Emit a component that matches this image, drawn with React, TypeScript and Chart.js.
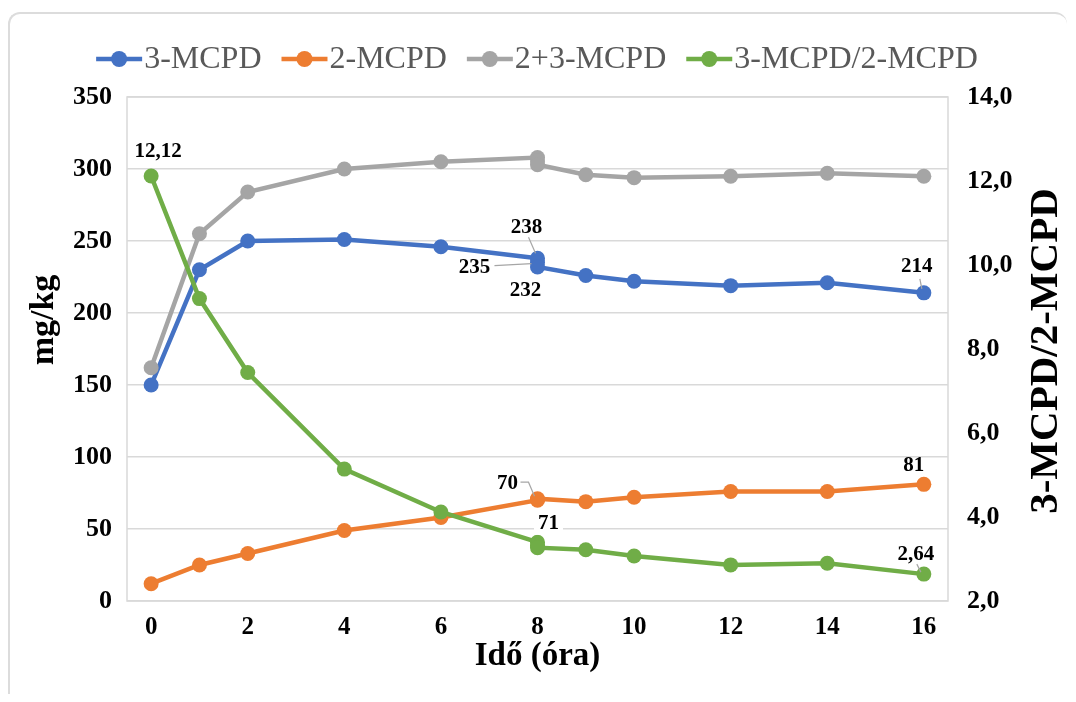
import React, { useEffect, useRef } from "react";
import { Chart, registerables } from "chart.js";

Chart.register(...registerables);

// ---- data ----
const hours = [0, 1, 2, 4, 6, 8, 8, 8, 9, 10, 12, 14, 16];
const mcpd3 = [150, 230, 250, 251, 246, 238, 235, 232, 226, 222, 219, 221, 214];
const mcpd2 = [12, 25, 33, 49, 58, 70, 70.5, 71, 69, 72, 76, 76, 81];
const mcpdSum = [162, 255, 284, 300, 305, 308, 305.5, 303, 296, 294, 295, 297, 295];
const ratio = [12.12, 9.2, 7.44, 5.14, 4.12, 3.4, 3.33, 3.27, 3.22, 3.07, 2.86, 2.9, 2.64];
const xTickValues = [0, 2, 4, 6, 8, 10, 12, 14, 16];
const seriesNames = ["3-MCPD", "2-MCPD", "2+3-MCPD", "3-MCPD/2-MCPD"];
const seriesColors = ["#4472C4", "#ED7D31", "#A5A5A5", "#70AD47"];
const xTitle = "Idő (óra)";
const yTitle = "mg/kg";
const y1Title = "3-MCPD/2-MCPD";

const fmt = (v: number) => String(v).replace(".", ",");

// label placement (offsets from the point, in px)
const labelSpecs = [
  { ds: 3, i: 0, dx: 7, dy: -24 },
  { ds: 0, i: 5, dx: -11, dy: -31, leader: [[-9, -21], [-2, -5]] },
  { ds: 0, i: 6, dx: -63, dy: 5, leader: [[-43, 3], [-6, 1]] },
  { ds: 0, i: 7, dx: -12, dy: 24 },
  { ds: 0, i: 12, dx: -7, dy: -26, leader: [[-4, -14], [-2, -4]] },
  { ds: 1, i: 5, dx: -30, dy: -17, leader: [[-17, -18], [-9, -18], [-3, -4]] },
  { ds: 1, i: 7, dx: 11, dy: 25, bg: true },
  { ds: 1, i: 12, dx: -10, dy: -19 },
  { ds: 3, i: 12, dx: -8, dy: -20, leader: [[-7, -10], [-3, -2]] },
];

const SERIF = '"Liberation Serif", "Times New Roman", serif';

const chartDecor = {
  id: "chartDecor",
  beforeDatasetsDraw(chart: any) {
    const { ctx, chartArea: a } = chart;
    ctx.save();
    ctx.strokeStyle = "#d9d9d9";
    ctx.lineWidth = 1.5;
    ctx.strokeRect(a.left, a.top, a.right - a.left, a.bottom - a.top);
    ctx.restore();
  },
  afterDatasetsDraw(chart: any) {
    const { ctx } = chart;
    ctx.save();
    ctx.font = `bold 21px ${SERIF}`;
    ctx.textAlign = "center";
    ctx.textBaseline = "middle";
    for (const s of labelSpecs) {
      const el = chart.getDatasetMeta(s.ds).data[s.i];
      const raw = chart.data.datasets[s.ds].data[s.i] as any;
      const px = el.x, py = el.y;
      const text = fmt(raw.y);
      if (s.leader) {
        ctx.strokeStyle = "#a6a6a6";
        ctx.lineWidth = 1.2;
        ctx.beginPath();
        s.leader.forEach((p: number[], k: number) => {
          if (k === 0) ctx.moveTo(px + p[0], py + p[1]);
          else ctx.lineTo(px + p[0], py + p[1]);
        });
        ctx.stroke();
      }
      const lx = px + s.dx, ly = py + s.dy;
      if (s.bg) {
        const w = ctx.measureText(text).width + 8;
        ctx.fillStyle = "#ffffff";
        ctx.fillRect(lx - w / 2, ly - 11, w, 22);
      }
      ctx.fillStyle = "#000000";
      ctx.fillText(text, lx, ly);
    }
    ctx.restore();
  },
  afterDraw(chart: any) {
    const { ctx, chartArea: a } = chart;
    ctx.save();
    // legend
    ctx.font = `32px ${SERIF}`;
    ctx.textBaseline = "middle";
    ctx.textAlign = "left";
    const markerW = 46, gapText = 2, gapItem = 20, ly = 51;
    const widths = seriesNames.map((n) => ctx.measureText(n).width);
    const total = widths.reduce((s, w) => s + w + markerW + gapText, 0) + gapItem * (seriesNames.length - 1);
    let x = 529 - total / 2;
    seriesNames.forEach((n, k) => {
      ctx.strokeStyle = seriesColors[k];
      ctx.lineWidth = 4.5;
      ctx.beginPath();
      ctx.moveTo(x, ly);
      ctx.lineTo(x + markerW, ly);
      ctx.stroke();
      ctx.fillStyle = seriesColors[k];
      ctx.beginPath();
      ctx.arc(x + markerW / 2, ly, 8, 0, Math.PI * 2);
      ctx.fill();
      ctx.fillStyle = "#595959";
      ctx.fillText(n, x + markerW + gapText, ly + 1);
      x += markerW + gapText + widths[k] + gapItem;
    });
    // axis titles
    ctx.fillStyle = "#000000";
    ctx.textAlign = "center";
    ctx.font = `bold 33px ${SERIF}`;
    ctx.fillText(xTitle, (a.left + a.right) / 2, 648);
    ctx.save();
    ctx.translate(36, 312);
    ctx.rotate(-Math.PI / 2);
    ctx.font = `bold 34px ${SERIF}`;
    ctx.fillText(yTitle, 0, 0);
    ctx.restore();
    ctx.save();
    ctx.translate(1038, 343);
    ctx.rotate(-Math.PI / 2);
    ctx.font = `bold 41px ${SERIF}`;
    ctx.fillText(y1Title, 0, 0);
    ctx.restore();
    ctx.restore();
  },
};

export default function App() {
  const ref = useRef<HTMLCanvasElement | null>(null);
  useEffect(() => {
    if (!ref.current) return;
    const series = [mcpd3, mcpd2, mcpdSum, ratio];
    const chart = new Chart(ref.current, {
      type: "line",
      data: {
        datasets: series.map((vals, k) => ({
          label: seriesNames[k],
          data: vals.map((v, i) => ({ x: hours[i], y: v })),
          borderColor: seriesColors[k],
          backgroundColor: seriesColors[k],
          pointBackgroundColor: seriesColors[k],
          pointBorderWidth: 0,
          pointRadius: 7.5,
          borderWidth: 4.5,
          yAxisID: k === 3 ? "y1" : "y",
          order: 3 - k,
          tension: 0,
        })),
      },
      options: {
        responsive: false,
        animation: false,
        layout: { padding: { top: 89, left: 0, right: 0, bottom: 0 } },
        plugins: { legend: { display: false }, tooltip: { enabled: false } },
        scales: {
          x: {
            type: "linear",
            min: -0.5,
            max: 16.5,
            grid: { display: false, drawTicks: false },
            border: { display: false },
            afterBuildTicks: (s: any) => {
              s.ticks = xTickValues.map((v) => ({ value: v }));
            },
            afterFit: (s: any) => {
              s.height = 93;
            },
            ticks: {
              padding: 12,
              autoSkip: false,
              maxRotation: 0,
              color: "#000",
              font: { family: SERIF, size: 25, weight: "bold" },
            },
          },
          y: {
            position: "left",
            min: 0,
            max: 350,
            grid: { color: "#d9d9d9", lineWidth: 1.5, drawTicks: false },
            border: { display: false },
            afterFit: (s: any) => {
              s.width = 119;
            },
            ticks: {
              stepSize: 50,
              padding: 15,
              color: "#000",
              font: { family: SERIF, size: 26, weight: "bold" },
            },
          },
          y1: {
            position: "right",
            min: 2,
            max: 14,
            grid: { display: false, drawTicks: false },
            border: { display: false },
            afterFit: (s: any) => {
              s.width = 120;
            },
            ticks: {
              stepSize: 2,
              padding: 19,
              color: "#000",
              font: { family: SERIF, size: 26, weight: "bold" },
              callback: (v: any) => Number(v).toFixed(1).replace(".", ","),
            },
          },
        },
      },
      plugins: [chartDecor],
    } as any);
    return () => chart.destroy();
  }, []);

  return (
    <div style={{ position: "relative", width: 1060, height: 686, overflow: "hidden" }}>
      <div
        style={{
          position: "absolute",
          left: 0,
          top: 4,
          width: 1059,
          height: 760,
          boxSizing: "border-box",
          borderTop: "2px solid #dcdcdc",
          borderLeft: "2px solid #dcdcdc",
          borderTopLeftRadius: 12,
          borderTopRightRadius: 12,
        }}
      />
      <canvas ref={ref} width={1060} height={686} style={{ position: "absolute", left: 0, top: 0, width: 1060, height: 686 }} />
    </div>
  );
}
